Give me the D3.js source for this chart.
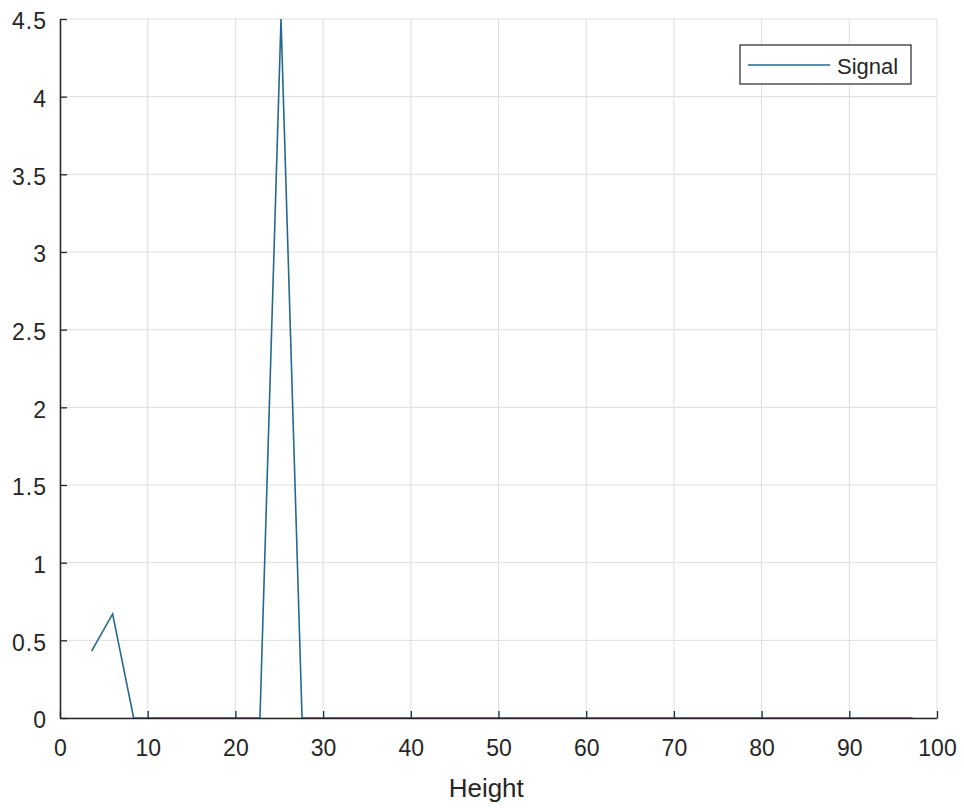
<!DOCTYPE html>
<html>
<head>
<meta charset="utf-8">
<script src="https://cdn.jsdelivr.net/npm/d3@7"></script>
<style>
  body { margin: 0; background: #fff; }
  svg text { font-family: "Liberation Sans", Arial, sans-serif; fill: #262626; }
</style>
</head>
<body>
<div id="chart"></div>
<script>
var width = 964,
    height = 808;

// data
var heights = [3.6, 6.0, 8.4, 10.8, 13.2, 15.6, 18.0, 20.4, 22.8, 25.2,
               27.6, 30.0, 32.4, 34.8, 37.2, 39.6, 42.0, 44.4, 46.8, 49.2,
               51.6, 54.0, 56.4, 58.8, 61.2, 63.6, 66.0, 68.4, 70.8, 73.2,
               75.6, 78.0, 80.4, 82.8, 85.2, 87.6, 90.0, 92.4, 94.8, 97.2];
var signal = [0.43, 0.67, 0, 0, 0, 0, 0, 0, 0, 4.5,
              0, 0, 0, 0, 0, 0, 0, 0, 0, 0,
              0, 0, 0, 0, 0, 0, 0, 0, 0, 0,
              0, 0, 0, 0, 0, 0, 0, 0, 0, 0];
var xTicks = [0, 10, 20, 30, 40, 50, 60, 70, 80, 90, 100];
var yTicks = [0, 0.5, 1, 1.5, 2, 2.5, 3, 3.5, 4, 4.5];

var margin = { left: 60, right: 27, top: 19, bottom: 90 };

var svg = d3.select('#chart')
    .append('svg')
    .attr('width', width)
    .attr('height', height);

var x = d3.scaleLinear().domain([0, 100]).range([margin.left, width - margin.right]);
var y = d3.scaleLinear().domain([0, 4.5]).range([height - margin.bottom, margin.top]);

// grid
svg.append('g')
    .selectAll('line')
    .data(xTicks)
    .enter()
    .append('line')
    .attr('x1', d => x(d)).attr('x2', d => x(d))
    .attr('y1', y(0)).attr('y2', y(4.5))
    .style('stroke', '#dedede')
    .style('stroke-width', 1);

svg.append('g')
    .selectAll('line')
    .data(yTicks)
    .enter()
    .append('line')
    .attr('x1', x(0)).attr('x2', x(100))
    .attr('y1', d => y(d)).attr('y2', d => y(d))
    .style('stroke', '#dedede')
    .style('stroke-width', 1);

// the signal line
var line = d3.line()
    .x((d, i) => x(heights[i]))
    .y(d => y(d));

svg.append('path')
    .datum(signal)
    .attr('d', line)
    .style('fill', 'none')
    .style('stroke', '#24688f')
    .style('stroke-width', 1.6);

// axes, ticks point inward like matlab
var xAxis = d3.axisBottom(x).tickValues(xTicks).tickSizeInner(-7).tickSizeOuter(0).tickPadding(22);
svg.append('g')
    .attr('transform', 'translate(0,' + y(0) + ')')
    .call(xAxis)
    .call(g => g.select('.domain').style('stroke', '#262626').style('stroke-width', 1.5))
    .call(g => g.selectAll('.tick line').style('stroke', '#262626').style('stroke-width', 1.3))
    .call(g => g.selectAll('.tick text').style('font-size', '23px').style('fill', '#262626'));

var yAxis = d3.axisLeft(y).tickValues(yTicks).tickSizeInner(-7).tickSizeOuter(0).tickPadding(13)
    .tickFormat(d3.format('~g'));
svg.append('g')
    .attr('transform', 'translate(' + x(0) + ',0)')
    .call(yAxis)
    .call(g => g.select('.domain').style('stroke', '#262626').style('stroke-width', 1.5))
    .call(g => g.selectAll('.tick line').style('stroke', '#262626').style('stroke-width', 1.3))
    .call(g => g.selectAll('.tick text').style('font-size', '23px').style('letter-spacing', '1px')
        .attr('dy', '0.42em').style('fill', '#262626'));

// x label
svg.append('text')
    .attr('x', x(48.6))
    .attr('y', 797)
    .attr('text-anchor', 'middle')
    .style('font-size', '26px')
    .text('Height');

// legend
var legend = svg.append('g').attr('transform', 'translate(740,45)');
legend.append('rect')
    .attr('width', 171)
    .attr('height', 39)
    .style('fill', '#fff')
    .style('stroke', '#262626')
    .style('stroke-width', 1.2);
legend.append('line')
    .attr('x1', 8).attr('x2', 90)
    .attr('y1', 20).attr('y2', 20)
    .style('stroke', '#24688f')
    .style('stroke-width', 1.6);
legend.append('text')
    .attr('x', 97)
    .attr('y', 29)
    .style('font-size', '22px')
    .text('Signal');
</script>
</body>
</html>
